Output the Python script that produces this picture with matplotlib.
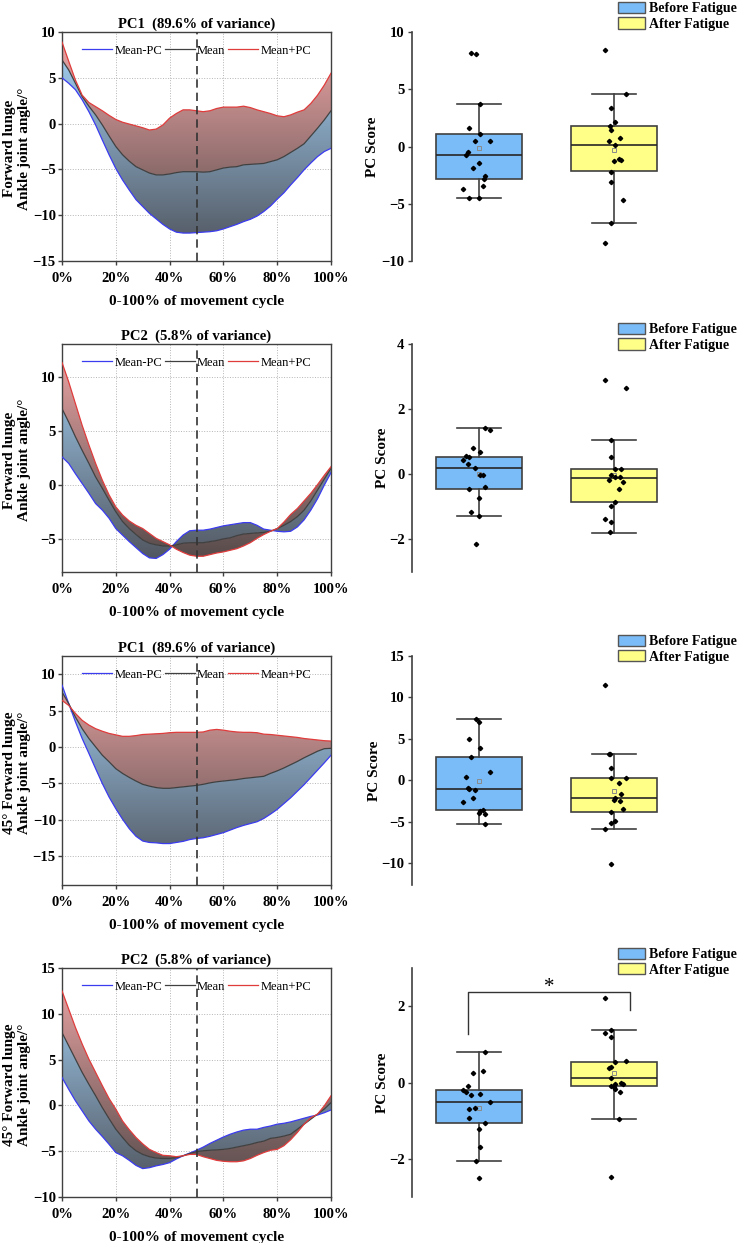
import matplotlib
matplotlib.use('Agg')
import matplotlib.pyplot as plt  # plotting
import numpy as np  # arrays
from matplotlib.patches import PathPatch, Patch

plt.rcParams['font.family'] = ['Liberation Serif', 'DejaVu Serif']

# ---------------- data ----------------
# movement cycle (%), sampled every 2.5%
pct = [0, 2.5, 5, 7.5, 10, 12.5, 15, 17.5, 20, 22.5, 25, 27.5, 30, 32.5, 35, 37.5, 40,
       42.5, 45, 47.5, 50, 52.5, 55, 57.5, 60, 62.5, 65, 67.5, 70, 72.5, 75, 77.5, 80,
       82.5, 85, 87.5, 90, 92.5, 95, 97.5, 100]

# row 1: Forward lunge, PC1
r1_hi = [8.9, 6.8, 4.75, 3.1, 2.3, 1.85, 1.4, 0.9, 0.45, 0.15, -0.05, -0.25, -0.45, -0.7, -0.6, -0.15, 0.6,
         1.1, 1.5, 1.5, 1.4, 1.3, 1.4, 1.65, 1.8, 1.8, 1.8, 1.9, 1.75, 1.5, 1.3, 1.1, 0.85,
         0.75, 0.95, 1.25, 1.5, 2.2, 3.1, 4.2, 5.5]
r1_mean = [6.95, 5.85, 4.4, 2.95, 1.9, 0.95, -0.15, -1.35, -2.5, -3.4, -4.1, -4.7, -5.05, -5.4, -5.6, -5.6, -5.5,
           -5.35, -5.25, -5.25, -5.25, -5.3, -5.25, -5.05, -4.85, -4.75, -4.7, -4.5, -4.45, -4.4, -4.35, -4.15, -3.95,
           -3.6, -3.15, -2.7, -2.2, -1.35, -0.5, 0.4, 1.4]
r1_lo = [5.0, 4.4, 3.7, 2.6, 1.3, -0.15, -1.8, -3.4, -4.9, -6.15, -7.25, -8.3, -9.05, -9.8, -10.4, -11.0, -11.5,
         -11.85, -11.95, -11.95, -11.9, -11.85, -11.8, -11.7, -11.5, -11.25, -11.0, -10.7, -10.45, -10.1, -9.6, -9.0, -8.25,
         -7.55, -6.7, -5.9, -5.05, -4.3, -3.6, -3.05, -2.7]

# row 2: Forward lunge, PC2
r2_hi = [11.3, 9.5, 7.5, 5.5, 3.7, 2.0, 0.45, -0.9, -2.0, -2.75, -3.3, -3.7, -4.0, -4.45, -4.9, -5.2, -5.5,
         -5.9, -6.2, -6.45, -6.55, -6.55, -6.4, -6.25, -6.15, -6.0, -5.85, -5.6, -5.3, -4.9, -4.55, -4.25, -4.0,
         -3.4, -2.7, -2.15, -1.45, -0.75, 0.05, 0.9, 1.7]
r2_mean = [7.05, 5.8, 4.45, 3.2, 2.0, 0.75, -0.3, -1.4, -2.45, -3.35, -4.0, -4.55, -5.05, -5.35, -5.5, -5.6, -5.6,
           -5.5, -5.35, -5.3, -5.3, -5.3, -5.2, -5.1, -4.95, -4.85, -4.65, -4.5, -4.45, -4.4, -4.35, -4.25, -4.0,
           -3.7, -3.35, -2.9, -2.3, -1.45, -0.45, 0.55, 1.55]
r2_lo = [2.6, 2.0, 1.05, 0.15, -0.75, -1.7, -2.3, -3.05, -4.0, -4.6, -5.2, -5.75, -6.3, -6.7, -6.75, -6.4, -5.9,
         -5.2, -4.6, -4.2, -4.15, -4.15, -4.05, -3.9, -3.75, -3.65, -3.55, -3.45, -3.45, -3.7, -4.05, -4.15, -4.25,
         -4.3, -4.25, -3.85, -3.2, -2.3, -1.25, 0.0, 1.15]

# row 3: 45° Forward lunge, PC1
r3_hi = [6.4, 5.7, 4.6, 3.65, 3.0, 2.5, 2.15, 1.85, 1.65, 1.45, 1.45, 1.55, 1.7, 1.75, 1.8, 1.85, 1.95,
         2.0, 2.0, 2.0, 2.0, 2.05, 2.3, 2.4, 2.3, 2.15, 2.05, 2.0, 2.0, 1.95, 1.75, 1.7, 1.6,
         1.5, 1.4, 1.3, 1.15, 1.05, 0.95, 0.85, 0.8]
r3_mean = [7.55, 5.95, 4.1, 2.5, 1.15, 0.0, -1.15, -2.05, -3.0, -3.65, -4.2, -4.7, -5.15, -5.4, -5.6, -5.7, -5.7,
           -5.6, -5.5, -5.4, -5.3, -5.15, -4.95, -4.8, -4.7, -4.6, -4.5, -4.35, -4.25, -4.15, -4.05, -3.65, -3.3,
           -2.9, -2.45, -2.0, -1.5, -1.05, -0.6, -0.25, -0.2]
r3_lo = [8.5, 5.95, 3.45, 1.15, -0.9, -3.0, -5.05, -6.9, -8.5, -9.95, -11.25, -12.3, -12.95, -13.15, -13.2, -13.3, -13.3,
         -13.15, -13.0, -12.75, -12.6, -12.5, -12.3, -12.05, -11.8, -11.45, -11.1, -10.8, -10.55, -10.3, -9.85, -9.25, -8.6,
         -7.8, -7.0, -6.1, -5.2, -4.2, -3.2, -2.2, -1.15]

# row 4: 45° Forward lunge, PC2
r4_hi = [12.5, 10.5, 8.5, 6.7, 5.05, 3.6, 2.15, 0.75, -0.4, -1.7, -2.65, -3.5, -4.2, -4.8, -5.15, -5.45, -5.5,
         -5.6, -5.5, -5.35, -5.35, -5.6, -5.8, -6.0, -6.1, -6.15, -6.15, -6.05, -5.8, -5.45, -5.15, -4.9, -4.8,
         -4.4, -3.75, -2.95, -2.05, -1.35, -0.95, -0.05, 1.05]
r4_mean = [7.95, 6.5, 5.05, 3.6, 2.3, 1.05, -0.25, -1.45, -2.6, -3.5, -4.35, -4.95, -5.35, -5.6, -5.75, -5.8, -5.8,
           -5.7, -5.5, -5.25, -5.05, -4.95, -4.9, -4.85, -4.8, -4.7, -4.55, -4.4, -4.25, -4.05, -3.9, -3.6, -3.5,
           -3.35, -3.15, -2.6, -2.05, -1.5, -0.95, -0.4, 0.3]
r4_lo = [3.05, 1.75, 0.5, -0.6, -1.7, -2.6, -3.4, -4.25, -5.15, -5.5, -6.0, -6.55, -6.9, -6.8, -6.6, -6.45, -6.25,
         -5.85, -5.5, -5.2, -4.9, -4.55, -4.15, -3.8, -3.45, -3.15, -2.9, -2.7, -2.6, -2.6, -2.4, -2.25, -2.05,
         -1.95, -1.8, -1.6, -1.4, -1.2, -1.05, -0.8, -0.5]

# PC scores (values and horizontal jitter of each dot)
r1_before = [8.16, 8.08, 3.70, 1.60, 1.05, 0.52, 0.44, -0.50, -0.73, -1.40, -1.90, -2.57, -2.86, -3.44, -3.73, -4.46, -4.52]
r1_before_jit = [-0.056, -0.019, 0.011, -0.075, 0.006, -0.031, 0.080, -0.078, -0.100, 0.001, -0.048, 0.043, 0.038, 0.031, -0.117, -0.073, 0.001]
r1_after = [8.40, 4.61, 3.35, 2.10, 1.81, 1.46, 0.76, 0.52, 0.15, -1.08, -1.17, -1.25, -2.19, -3.12, -4.66, -6.65, -8.45]
r1_after_jit = [-0.067, 0.087, -0.025, 0.007, -0.027, -0.025, 0.045, -0.040, 0.007, 0.040, 0.049, 0.002, -0.022, -0.025, 0.069, -0.022, -0.067]

r2_before = [1.42, 1.35, 0.81, 0.69, 0.56, 0.53, 0.43, 0.33, 0.18, -0.01, -0.02, -0.39, -0.45, -0.72, -1.17, -1.29, -2.14]
r2_before_jit = [0.043, 0.080, -0.046, 0.009, -0.100, -0.073, -0.117, -0.078, -0.028, 0.011, 0.033, 0.046, -0.075, 0.001, -0.056, 0.001, -0.019]
r2_after = [2.88, 2.66, 1.04, 0.53, 0.17, 0.15, -0.02, -0.08, -0.08, -0.17, -0.24, -0.46, -0.85, -0.97, -1.36, -1.48, -1.78]
r2_after_jit = [-0.067, 0.087, -0.025, -0.025, 0.005, 0.049, -0.025, 0.007, 0.045, -0.040, 0.069, 0.040, 0.007, -0.022, -0.067, -0.022, -0.030]

r3_before = [7.40, 7.00, 5.00, 3.92, 2.84, 1.00, 0.40, -0.85, -1.00, -1.16, -2.08, -2.60, -3.56, -3.68, -3.88, -4.04, -5.28]
r3_before_jit = [-0.019, 0.001, -0.075, 0.009, -0.056, 0.080, -0.100, -0.078, -0.073, -0.028, -0.046, -0.117, 0.031, 0.011, 0.001, 0.043, 0.046]
r3_after = [11.52, 3.16, 3.16, 1.52, 0.28, 0.28, -0.36, -1.68, -2.16, -2.32, -2.48, -3.48, -3.80, -4.88, -5.12, -5.80, -10.08]
r3_after_jit = [-0.067, -0.040, -0.030, -0.025, -0.025, 0.087, 0.040, 0.049, 0.007, 0.002, 0.045, 0.069, -0.022, 0.007, -0.022, -0.067, -0.022]

r4_before = [0.79, 0.29, 0.26, -0.09, -0.19, -0.25, -0.32, -0.31, -0.50, -0.66, -0.69, -0.92, -1.07, -1.22, -1.70, -2.05, -2.50]
r4_before_jit = [0.043, 0.033, -0.046, -0.078, -0.117, -0.100, -0.056, 0.009, 0.080, -0.028, -0.075, -0.075, 0.046, 0.001, 0.011, -0.019, 0.001]
r4_after = [2.21, 1.37, 1.30, 1.20, 0.57, 0.53, 0.40, 0.37, 0.12, -0.01, -0.03, -0.04, -0.09, -0.12, -0.16, -0.25, -0.95, -2.47]
r4_after_jit = [-0.067, -0.025, -0.067, -0.022, 0.087, 0.007, -0.025, -0.040, -0.025, 0.049, 0.069, 0.007, -0.025, 0.002, 0.007, 0.045, 0.040, -0.022]

# box statistics: whisker low, Q1, median, Q3, whisker high ; and the mean
r1_before_box, r1_before_mean = [-4.52, -2.86, -0.70, 1.05, 3.70], -0.15
r1_after_box, r1_after_mean = [-6.65, -2.13, 0.15, 1.75, 4.61], -0.32
r2_before_box, r2_before_mean = [-1.29, -0.44, 0.18, 0.54, 1.41], 0.0
r2_after_box, r2_after_mean = [-1.79, -0.85, -0.10, 0.15, 1.04], -0.02
r3_before_box, r3_before_mean = [-5.28, -3.60, -1.00, 2.84, 7.36], -0.04
r3_after_box, r3_after_mean = [-5.80, -3.80, -2.08, 0.28, 3.16], -1.32
r4_before_box, r4_before_mean = [-2.05, -1.07, -0.50, -0.20, 0.79], -0.66
r4_after_box, r4_after_mean = [-0.95, -0.10, 0.12, 0.55, 1.37], 0.25

# significance bracket on the last score panel
sig_x = [0.92, 2.12]
sig_y = [1.27, 2.37, 1.91]
sig_label = '*'

titles = ['PC1  (89.6% of variance)', 'PC2  (5.8% of variance)',
          'PC1  (89.6% of variance)', 'PC2  (5.8% of variance)']
ylabels = ['Forward lunge\nAnkle joint angle/°', 'Forward lunge\nAnkle joint angle/°',
           '45° Forward lunge\nAnkle joint angle/°', '45° Forward lunge\nAnkle joint angle/°']
group_labels = ['Before Fatigue', 'After Fatigue']

# ---------------- styling ----------------
RED_TOP, RED_BOT = (0.95, 0.66, 0.66), (0.30, 0.27, 0.27)
BLUE_TOP, BLUE_BOT = (0.66, 0.85, 1.00), (0.30, 0.31, 0.34)
BOX_COLORS = ['#7abcf8', '#ffff88']
EDGE = '#404040'


def gradient_fill(ax, x, y1, y2, top_rgb, bottom_rgb, ylim):
    """Fill between two curves with a vertical colour gradient."""
    coll = ax.fill_between(x, y1, y2, facecolor='none', edgecolor='none')
    clip = PathPatch(coll.get_paths()[0], transform=ax.transData,
                     facecolor='none', edgecolor='none')
    ax.add_patch(clip)
    shade = np.linspace(0, 1, 256)[:, None]
    rgb = np.array(top_rgb) * (1 - shade) + np.array(bottom_rgb) * shade
    im = ax.imshow(rgb[:, None, :], extent=[x[0], x[-1], ylim[0], ylim[1]],
                   origin='upper', aspect='auto', interpolation='bilinear', zorder=1)
    im.set_clip_path(clip)


def plot_curves(ax, hi, mean, lo, title, ylabel, ylim, yticks):
    """Left panel: mean curve with +/- PC curves."""
    gradient_fill(ax, pct, mean, hi, RED_TOP, RED_BOT, ylim)
    gradient_fill(ax, pct, lo, mean, BLUE_TOP, BLUE_BOT, ylim)
    ax.plot(pct, lo, color='#3b3bf0', lw=0.9, label='Mean-PC', zorder=3)
    ax.plot(pct, mean, color='#404040', lw=0.9, label='Mean', zorder=3)
    ax.plot(pct, hi, color='#e03c3c', lw=0.9, label='Mean+PC', zorder=3)
    ax.axvline(50, color='#333333', ls=(0, (5, 3)), lw=1.2, zorder=4)

    ax.set_xlim(0, 100)
    ax.set_ylim(*ylim)
    ax.set_xticks([0, 20, 40, 60, 80, 100])
    ax.set_xticklabels([f'{t}%' for t in [0, 20, 40, 60, 80, 100]])
    ax.set_yticks(yticks)
    ax.grid(True, ls=':', color='#b5b5b5', lw=0.7)
    ax.set_axisbelow(True)
    for sp in ax.spines.values():
        sp.set_color(EDGE)
        sp.set_linewidth(1.0)
    ax.tick_params(direction='out', length=3, width=1, color=EDGE, labelsize=10.5, pad=1.5)
    ax.tick_params(axis='x', pad=5)
    for lab in ax.get_xticklabels() + ax.get_yticklabels():
        lab.set_fontweight('bold')
    ax.set_title(title, fontsize=10.5, fontweight='bold', pad=3)
    ax.set_xlabel('0-100% of movement cycle', fontsize=11, fontweight='bold', labelpad=7)
    ax.set_ylabel(ylabel, fontsize=11, fontweight='bold', linespacing=1.2, va='center')
    ax.yaxis.set_label_coords(-0.166, 0.49)
    ax.legend(loc='upper center', bbox_to_anchor=(0.5, 1.0), ncol=3, frameon=False,
              fontsize=9, handlelength=2.4, handletextpad=0.2, columnspacing=0.2,
              borderpad=0.5)


def box_stats(box, mean):
    return dict(whislo=box[0], q1=box[1], med=box[2], q3=box[3], whishi=box[4],
                mean=mean, fliers=[])


def plot_scores(ax, before, before_jit, after, after_jit, stats, ylim, yticks, leg_y, lab_x):
    """Right panel: box plot of PC scores before / after fatigue."""
    bp = ax.bxp(stats, positions=[1, 2], widths=0.64, capwidths=0.32,
                patch_artist=True, showmeans=True, showfliers=False,
                boxprops=dict(edgecolor=EDGE, linewidth=1.2),
                medianprops=dict(color='#262626', linewidth=1.2),
                whiskerprops=dict(color=EDGE, linewidth=1.2),
                capprops=dict(color=EDGE, linewidth=1.2),
                meanprops=dict(marker='s', markersize=3, markerfacecolor='none',
                               markeredgecolor='#8a8a8a', markeredgewidth=0.7))
    for patch, col in zip(bp['boxes'], BOX_COLORS):
        patch.set_facecolor(col)

    ax.plot(1 + np.array(before_jit), before, 'D', ms=2.2, color='black', zorder=5)
    ax.plot(2 + np.array(after_jit), after, 'D', ms=2.2, color='black', zorder=5)

    ax.set_xlim(0.5, 2.5)
    ax.set_ylim(*ylim)
    ax.set_yticks(yticks)
    ax.set_xticks([])
    for side in ['top', 'right', 'bottom']:
        ax.spines[side].set_visible(False)
    ax.spines['left'].set_color(EDGE)
    ax.spines['left'].set_linewidth(1.2)
    ax.tick_params(axis='y', direction='out', length=3, width=1, color=EDGE,
                   labelsize=10.5, pad=2)
    for lab in ax.get_yticklabels():
        lab.set_fontweight('bold')
    ax.set_ylabel('PC Score', fontsize=11, fontweight='bold', va='center')
    ax.yaxis.set_label_coords(lab_x, 0.5)

    handles = [Patch(facecolor=c, edgecolor='#555555', lw=1) for c in BOX_COLORS]
    ax.legend(handles, group_labels, loc='upper left', bbox_to_anchor=(0.765, leg_y),
              frameon=False, prop=dict(weight='bold', size=10), handlelength=1.95,
              handleheight=0.85, handletextpad=0.25, labelspacing=0.15,
              borderpad=0, borderaxespad=0)


fig = plt.figure(figsize=(7.4, 12.43), dpi=100)
W, H = 740, 1243
tops = [32, 344, 656, 968]
bottoms = [261, 572, 885, 1197]

curves = [(r1_hi, r1_mean, r1_lo), (r2_hi, r2_mean, r2_lo),
          (r3_hi, r3_mean, r3_lo), (r4_hi, r4_mean, r4_lo)]
curve_ylims = [(-15, 10), (-8, 13), (-19, 12.5), (-10, 15)]
curve_yticks = [[-15, -10, -5, 0, 5, 10], [-5, 0, 5, 10],
                [-15, -10, -5, 0, 5, 10], [-10, -5, 0, 5, 10, 15]]

scores = [(r1_before, r1_before_jit, r1_after, r1_after_jit),
          (r2_before, r2_before_jit, r2_after, r2_after_jit),
          (r3_before, r3_before_jit, r3_after, r3_after_jit),
          (r4_before, r4_before_jit, r4_after, r4_after_jit)]
boxes = [[box_stats(r1_before_box, r1_before_mean), box_stats(r1_after_box, r1_after_mean)],
         [box_stats(r2_before_box, r2_before_mean), box_stats(r2_after_box, r2_after_mean)],
         [box_stats(r3_before_box, r3_before_mean), box_stats(r3_after_box, r3_after_mean)],
         [box_stats(r4_before_box, r4_before_mean), box_stats(r4_after_box, r4_after_mean)]]
score_ylims = [(-10, 10), (-3, 4), (-12.6, 15), (-3, 3)]
score_yticks = [[-10, -5, 0, 5, 10], [-2, 0, 2, 4], [-10, -5, 0, 5, 10, 15], [-2, 0, 2]]
legend_y = [1.131, 1.092, 1.092, 1.088]
score_label_x = [-0.143, -0.106, -0.136, -0.106]

for i in range(4):
    b = 1 - bottoms[i] / H
    h = (bottoms[i] - tops[i]) / H
    ax_l = fig.add_axes([62 / W, b, 269 / W, h])
    plot_curves(ax_l, *curves[i], titles[i], ylabels[i], curve_ylims[i], curve_yticks[i])
    ax_r = fig.add_axes([411.5 / W, b, 270 / W, h])
    plot_scores(ax_r, *scores[i], boxes[i], score_ylims[i], score_yticks[i],
                legend_y[i], score_label_x[i])
    if i == 3:
        # significance bracket between the two groups
        ax_r.plot([sig_x[0], sig_x[0], sig_x[1], sig_x[1]],
                  [sig_y[0], sig_y[1], sig_y[1], sig_y[2]], color='#333333', lw=1)
        ax_r.text((sig_x[0] + sig_x[1]) / 2, sig_y[1] + 0.12, sig_label,
                  ha='center', va='center', fontsize=15)

fig.savefig('out.png', dpi=100)
